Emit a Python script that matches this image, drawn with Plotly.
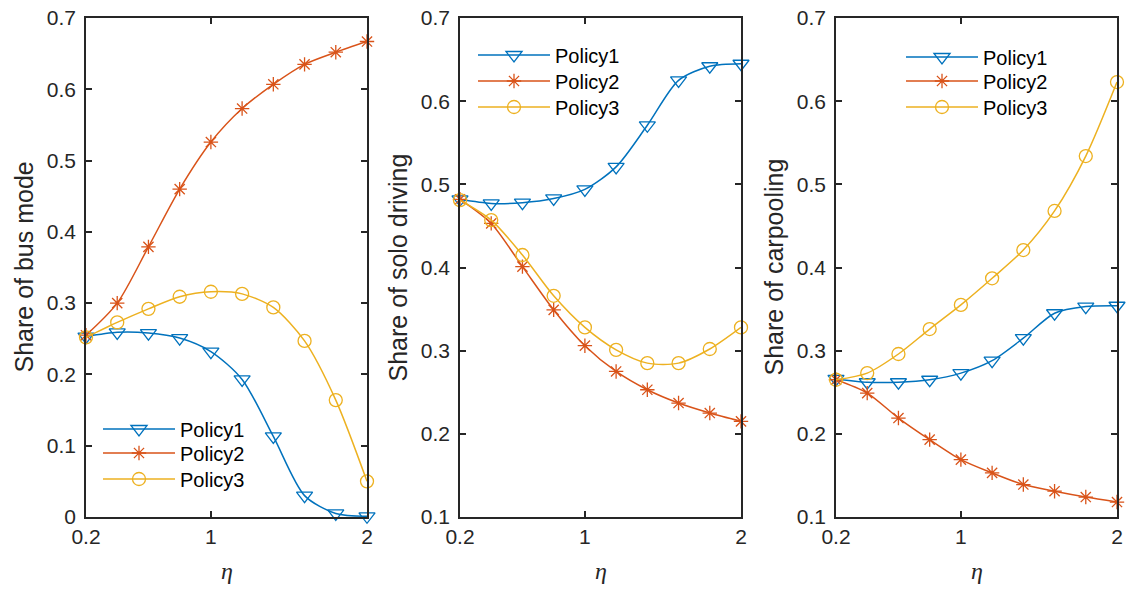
import plotly.graph_objects as go

eta = [0.2, 0.4, 0.6, 0.8, 1.0, 1.2, 1.4, 1.6, 1.8, 2.0]
tick_vals = [0.2, 1, 2]
tick_text = ["0.2", "1", "2"]
series_names = ["Policy1", "Policy2", "Policy3"]

bus_p1 = [0.253, 0.259, 0.258, 0.251, 0.232, 0.193, 0.113, 0.030, 0.005, 0.001]
bus_p2 = [0.255, 0.300, 0.379, 0.460, 0.526, 0.573, 0.607, 0.635, 0.652, 0.667]
bus_p3 = [0.252, 0.273, 0.292, 0.309, 0.316, 0.313, 0.294, 0.247, 0.164, 0.050]

solo_p1 = [0.482, 0.477, 0.478, 0.483, 0.494, 0.521, 0.571, 0.625, 0.642, 0.645]
solo_p2 = [0.482, 0.453, 0.401, 0.349, 0.306, 0.275, 0.253, 0.237, 0.225, 0.215]
solo_p3 = [0.481, 0.457, 0.415, 0.366, 0.328, 0.301, 0.285, 0.285, 0.302, 0.328]

car_p1 = [0.266, 0.262, 0.262, 0.265, 0.273, 0.288, 0.315, 0.345, 0.353, 0.354]
car_p2 = [0.265, 0.249, 0.219, 0.193, 0.169, 0.153, 0.139, 0.131, 0.124, 0.118]
car_p3 = [0.265, 0.273, 0.296, 0.326, 0.355, 0.387, 0.421, 0.468, 0.534, 0.623]

y_titles = ["Share of bus mode", "Share of solo driving", "Share of carpooling"]
x_title = "<i>η</i>"
y_ranges = [[0, 0.7], [0.1, 0.7], [0.1, 0.7]]
y_ticks = [[0, 0.1, 0.2, 0.3, 0.4, 0.5, 0.6, 0.7],
           [0.1, 0.2, 0.3, 0.4, 0.5, 0.6, 0.7],
           [0.1, 0.2, 0.3, 0.4, 0.5, 0.6, 0.7]]
y_ticktext = [["0", "0.1", "0.2", "0.3", "0.4", "0.5", "0.6", "0.7"],
              ["0.1", "0.2", "0.3", "0.4", "0.5", "0.6", "0.7"],
              ["0.1", "0.2", "0.3", "0.4", "0.5", "0.6", "0.7"]]

colors = ["#0072BD", "#D95319", "#EDB120"]
symbols = ["triangle-down-open", "asterisk-open", "circle-open"]
msizes = [14, 12, 13]

panels = [[bus_p1, bus_p2, bus_p3], [solo_p1, solo_p2, solo_p3], [car_p1, car_p2, car_p3]]

W, H = 1128, 590
mt, mb = 18, 73
domains_px = [(86, 367), (460, 741), (836, 1117)]
plot_h = H - mt - mb


def py(ypix):
    return (H - mb - ypix) / plot_h


# legend placement (left x of legend box, centre y of each row), in pixels
legend_left = [98, 473, 901]
legend_rows = [[429, 453, 479], [55, 81, 107], [57, 81, 107]]

fig = go.Figure()
leg_font = dict(family="Liberation Sans, Arial", size=20, color="black")
layout = dict(
    width=W, height=H, paper_bgcolor="white", plot_bgcolor="white",
    margin=dict(l=0, r=0, t=mt, b=mb, autoexpand=False),
    showlegend=True,
)

n = 0
for p, data in enumerate(panels):
    xa = "x" if p == 0 else f"x{p+1}"
    ya = "y" if p == 0 else f"y{p+1}"
    for s, vals in enumerate(data):
        n += 1
        lid = "legend" if n == 1 else f"legend{n}"
        fig.add_trace(go.Scatter(
            x=eta, y=vals, mode="lines+markers", name=series_names[s],
            xaxis=xa, yaxis=ya, legend=lid,
            line=dict(color=colors[s], width=1.5, shape="spline", smoothing=0.8),
            marker=dict(symbol=symbols[s], size=msizes[s], color=colors[s],
                        line=dict(color=colors[s], width=1.3)),
            cliponaxis=False,
        ))
        layout[lid] = dict(x=legend_left[p] / W, y=py(legend_rows[p][s]),
                           xanchor="left", yanchor="middle",
                           bgcolor="rgba(0,0,0,0)", font=leg_font, itemwidth=72)

axis_common = dict(
    showline=True, linecolor="#262626", linewidth=1.5, mirror="ticks",
    ticks="inside", ticklen=6, tickwidth=1.5, tickcolor="#262626",
    showgrid=False, zeroline=False, ticklabeloverflow="allow",
    tickfont=dict(family="Liberation Sans, Arial", size=21, color="#262626"),
)

annotations = []
for p in range(3):
    xk = "xaxis" if p == 0 else f"xaxis{p+1}"
    yk = "yaxis" if p == 0 else f"yaxis{p+1}"
    a, b = domains_px[p]
    layout[xk] = dict(
        axis_common, domain=[a / W, b / W], range=[0.2, 2.0],
        tickvals=tick_vals, ticktext=tick_text,
        anchor="y" if p == 0 else f"y{p+1}",
    )
    layout[yk] = dict(
        axis_common, domain=[0, 1], range=y_ranges[p], tickvals=y_ticks[p],
        ticktext=y_ticktext[p], ticklabelstandoff=4,
        anchor="x" if p == 0 else f"x{p+1}",
    )
    annotations.append(dict(
        text=y_titles[p], xref="paper", yref="paper",
        x=(a - 63) / W, y=0.5, xanchor="center", yanchor="middle",
        textangle=-90, showarrow=False,
        font=dict(family="Liberation Sans, Arial", size=25, color="#262626"),
    ))
    annotations.append(dict(
        text=x_title, xref="paper", yref="paper",
        x=(a + b) / 2 / W, y=py(571), xanchor="center", yanchor="middle",
        showarrow=False,
        font=dict(family="Liberation Serif", size=24, color="#262626"),
    ))

layout["annotations"] = annotations
fig.update_layout(**layout)
fig.write_html(
    "out.html",
    config={"displayModeBar": False},
    post_script="document.body.style.margin='0';document.body.style.overflow='hidden';",
)
